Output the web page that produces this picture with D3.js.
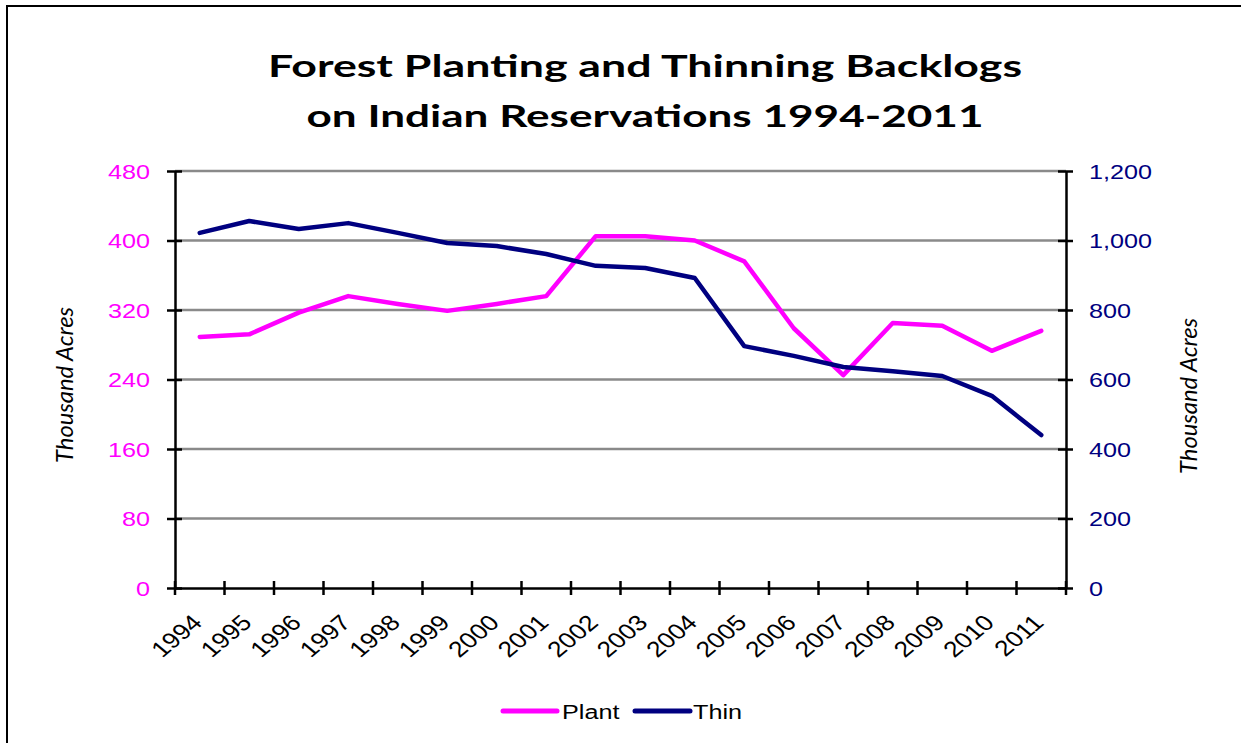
<!DOCTYPE html>
<html><head><meta charset="utf-8">
<script src="https://cdn.jsdelivr.net/npm/d3@7"></script>
<style>body{margin:0;background:#fff;overflow:hidden}svg{display:block}</style>
</head><body><svg id="c" width="1241" height="743"></svg>
<script>
const years = ["1994","1995","1996","1997","1998","1999","2000","2001","2002","2003","2004","2005","2006","2007","2008","2009","2010","2011"];
const plantValues = [289,292,317,336,327,319,327,336,405,405,400,376,299,245,305,302,273,296];
const thinValues = [1022,1056,1033,1050,1022,993,984,961,927,921,892,696,668,636,624,610,553,440];
const leftTicks = [0,80,160,240,320,400,480];
const rightTicks = [0,200,400,600,800,1000,1200];
const titleLines = ["Forest Planting and Thinning Backlogs","on Indian Reservations 1994-2011"];
const seriesNames = ["Plant","Thin"];
const axisTitle = "Thousand Acres";

const plantColor = "#ff00ff", thinColor = "#000080";
const SX = 1.2; // horizontal stretch of text in reference
const svg = d3.select("#c");
const L = 175, R = 1066, T = 171, B = 588;

svg.append("rect").attr("width",1241).attr("height",743).attr("fill","#fff");
svg.append("path").attr("d","M7,743V6H1241")
  .attr("fill","none").attr("stroke","#000").attr("stroke-width",2);

const x = d3.scaleBand().domain(years).range([L,R]).paddingInner(0).paddingOuter(0);
const yL = d3.scaleLinear().domain([0,480]).range([B,T]);
const yR = d3.scaleLinear().domain([0,1200]).range([B,T]);

// gridlines
svg.append("g").selectAll("line").data(leftTicks.filter(d=>d>0)).join("line")
  .attr("x1",L).attr("x2",R).attr("y1",d=>yL(d)).attr("y2",d=>yL(d))
  .attr("stroke","#8a8a8a").attr("stroke-width",2.5);

// title
svg.append("g").selectAll("text").data(titleLines).join("text")
  .attr("transform",(d,i)=>`translate(645,${i===0?77:127})`)
  .attr("text-anchor","middle")
  .attr("font-family","Lato, 'Open Sans', sans-serif").attr("font-weight","bold")
  .attr("font-size",31).attr("fill","#000")
  .attr("textLength",(d,i)=>i===0?754:677).attr("lengthAdjust","spacingAndGlyphs")
  .text(d=>d);

// left axis
const gL = svg.append("g").attr("transform",`translate(${L},0)`)
  .call(d3.axisLeft(yL).tickValues(leftTicks).tickSize(8).tickSizeOuter(0));
gL.select(".domain").attr("stroke","#000").attr("stroke-width",2.5);
gL.selectAll(".tick line").attr("x1",7).attr("x2",-8).attr("stroke","#000").attr("stroke-width",2.5);
gL.selectAll(".tick text").attr("x",null).attr("dy","0.35em")
  .attr("transform",`translate(-25,0) scale(${SX},1)`)
  .attr("font-family","'Liberation Sans', Arial, sans-serif").attr("font-size",21)
  .attr("fill",plantColor).attr("text-anchor","end");

// right axis
const gR = svg.append("g").attr("transform",`translate(${R},0)`)
  .call(d3.axisRight(yR).tickValues(rightTicks).tickSize(8).tickSizeOuter(0).tickFormat(d3.format(",")));
gR.select(".domain").attr("stroke","#000").attr("stroke-width",2.5);
gR.selectAll(".tick line").attr("x1",-8).attr("x2",7).attr("stroke","#000").attr("stroke-width",2.5);
gR.selectAll(".tick text").attr("x",null).attr("dy","0.35em")
  .attr("transform",`translate(23,0) scale(${SX},1)`)
  .attr("font-family","'Liberation Sans', Arial, sans-serif").attr("font-size",21)
  .attr("fill",thinColor).attr("text-anchor","start");

// bottom axis
const gB = svg.append("g").attr("transform",`translate(0,${B})`)
  .call(d3.axisBottom(x).tickSize(0).tickSizeOuter(0));
gB.select(".domain").attr("stroke","#000").attr("stroke-width",2.5);
gB.selectAll(".tick line").remove();
gB.selectAll(".tick text").attr("y",null).attr("dy",null)
  .attr("transform",`translate(4,36) scale(${SX},1) rotate(-45)`)
  .attr("font-family","'Liberation Sans', Arial, sans-serif").attr("font-size",22)
  .attr("fill","#000").attr("text-anchor","end");
// band-boundary tick marks
gB.append("g").selectAll("line").data(years.slice(1).concat(["__end"])).join("line")
  .attr("x1",d=>d==="__end"?R:x(d)).attr("x2",d=>d==="__end"?R:x(d))
  .attr("y1",-7).attr("y2",7).attr("stroke","#000").attr("stroke-width",2.5);
gB.append("line").attr("x1",L).attr("x2",L).attr("y1",-7).attr("y2",7).attr("stroke","#000").attr("stroke-width",2.5);

// axis titles
[[64,385],[1188,396]].forEach(p=>{
  svg.append("text").attr("transform",`translate(${p[0]},${p[1]}) scale(${SX},1) rotate(-90)`)
    .attr("text-anchor","middle").attr("dominant-baseline","central")
    .attr("font-family","Lato, 'Open Sans', sans-serif").attr("font-style","italic")
    .attr("font-size",20).attr("fill","#000")
    .attr("textLength",156).attr("lengthAdjust","spacingAndGlyphs")
    .text(axisTitle);
});

// lines
const cx = d=>x(d)+x.bandwidth()/2;
const lineL = d3.line().x((d,i)=>cx(years[i])).y(d=>yL(d));
const lineR = d3.line().x((d,i)=>cx(years[i])).y(d=>yR(d));
svg.append("path").datum(plantValues).attr("d",lineL).attr("fill","none")
  .attr("stroke",plantColor).attr("stroke-width",4.5).attr("stroke-linejoin","round").attr("stroke-linecap","round");
svg.append("path").datum(thinValues).attr("d",lineR).attr("fill","none")
  .attr("stroke",thinColor).attr("stroke-width",4.5).attr("stroke-linejoin","round").attr("stroke-linecap","round");

// legend
const legend = [{name:seriesNames[0],color:plantColor,x1:503,x2:557,tx:562},
                {name:seriesNames[1],color:thinColor,x1:635,x2:690,tx:693}];
const lg = svg.append("g");
legend.forEach(l=>{
  lg.append("line").attr("x1",l.x1).attr("x2",l.x2).attr("y1",711).attr("y2",711)
    .attr("stroke",l.color).attr("stroke-width",5).attr("stroke-linecap","round");
  lg.append("text").attr("transform",`translate(${l.tx},719) scale(${SX},1)`)
    .attr("font-family","'Liberation Sans', Arial, sans-serif").attr("font-size",21)
    .attr("fill","#000").text(l.name);
});
</script></body></html>
